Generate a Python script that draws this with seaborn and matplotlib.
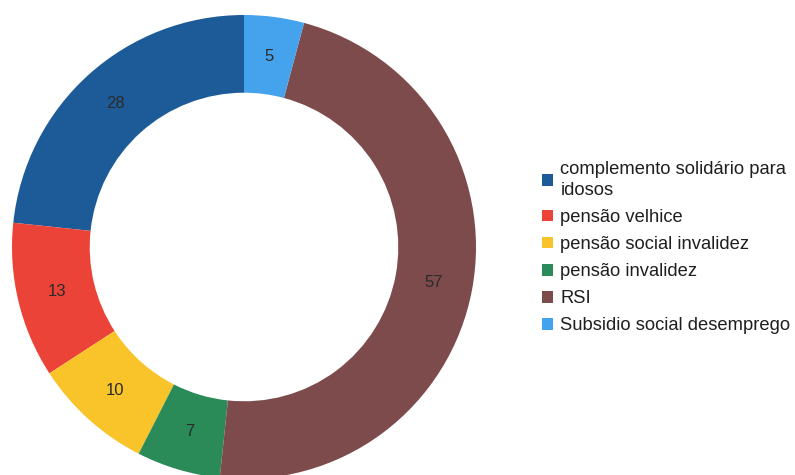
import matplotlib
matplotlib.use("Agg")
import matplotlib.pyplot as plt
import seaborn as sns
from matplotlib.patches import Patch

sns.set_theme(style="white")
plt.rcParams['font.family'] = ['Liberation Sans', 'DejaVu Sans']

categories = ["complemento solidário para\nidosos", "pensão velhice", "pensão social invalidez",
              "pensão invalidez", "RSI", "Subsidio social desemprego"]
values = [28, 13, 10, 7, 57, 5]
colors = ["#1d5b98", "#ec4338", "#f9c42a", "#2a8a58", "#7d4b4b", "#45a2ec"]

fig = plt.figure(figsize=(7.95, 4.75), dpi=100)
ax = fig.add_axes([12/795, -4/475, 464/795, 464/475])

wedges, texts = ax.pie(values, colors=colors, startangle=90, counterclock=True,
                       radius=1.0, labels=[str(v) for v in values], labeldistance=0.83,
                       wedgeprops=dict(width=0.335, edgecolor="none"),
                       textprops=dict(fontsize=12, color="#2b2b2b"))
for t in texts:
    t.set_horizontalalignment("center")
    t.set_verticalalignment("center")
ax.set_xlim(-1, 1)
ax.set_ylim(-1, 1)
ax.set_aspect("equal")
ax.axis("off")

handles = [Patch(facecolor=c, edgecolor="none") for c in colors]
leg = fig.legend(handles, categories, loc="upper left", bbox_to_anchor=(542/795, 1 - 161/475),
                 frameon=False, fontsize=13.2, handlelength=0.6, handleheight=0.6,
                 handletextpad=0.4, labelspacing=0.55, borderaxespad=0, borderpad=0,
                 labelcolor="#1f1f1f")
for t in leg.get_texts():
    t.set_linespacing(1.3)

fig.savefig("out.png", dpi=100)
